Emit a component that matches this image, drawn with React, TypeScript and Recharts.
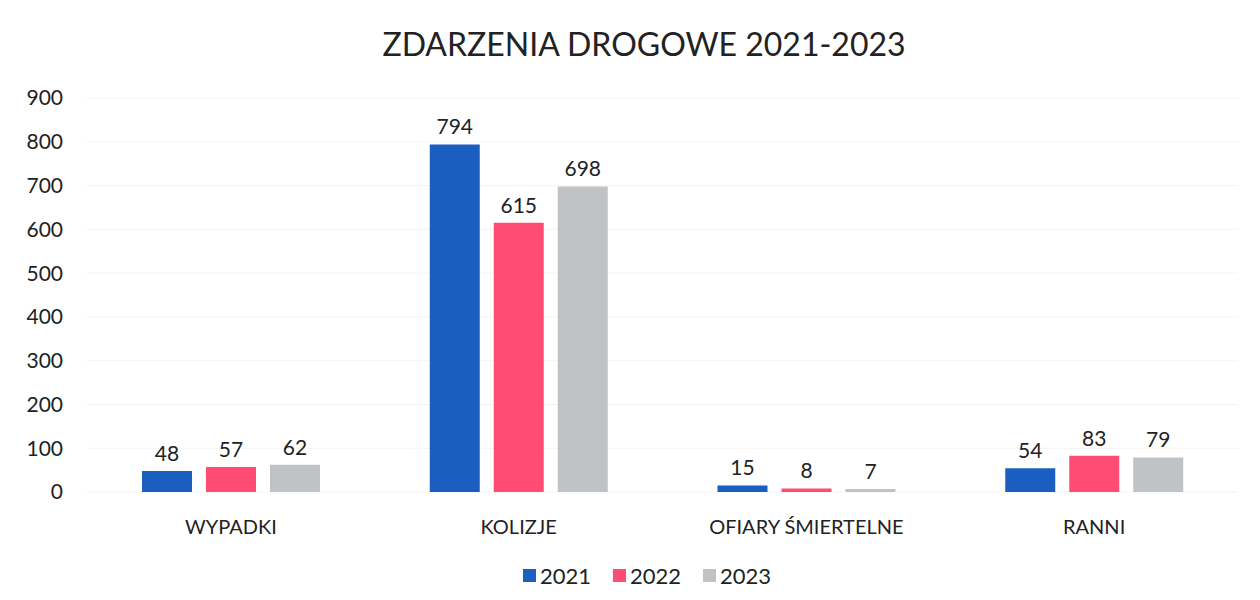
import { BarChart, Bar, XAxis, YAxis, CartesianGrid, Legend, LabelList } from 'recharts';

const kategorie = ['WYPADKI', 'KOLIZJE', 'OFIARY ŚMIERTELNE', 'RANNI'];
const rok2021 = [48, 794, 15, 54];
const rok2022 = [57, 615, 8, 83];
const rok2023 = [62, 698, 7, 79];
const osY = [0, 100, 200, 300, 400, 500, 600, 700, 800, 900];

const serie = [
  { key: 'r2021', name: '2021', color: '#1a5fc0' },
  { key: 'r2022', name: '2022', color: '#fe4c74' },
  { key: 'r2023', name: '2023', color: '#bfc3c5' },
];

const dane = kategorie.map((k, i) => ({
  nazwa: k,
  r2021: rok2021[i],
  r2022: rok2022[i],
  r2023: rok2023[i],
}));

const FONT = 'Lato, "Open Sans", sans-serif';

const Legenda = () => (
  <div
    style={{
      display: 'flex',
      justifyContent: 'center',
      gap: 22,
      marginTop: 10,
      paddingLeft: 56,
      fontFamily: FONT,
      fontSize: 22,
      color: '#222',
    }}
  >
    {serie.map((s) => (
      <div key={s.key} style={{ display: 'flex', alignItems: 'center', gap: 4 }}>
        <span style={{ width: 13, height: 13, background: s.color, display: 'inline-block' }} />
        <span>{s.name}</span>
      </div>
    ))}
  </div>
);

const App = () => {
  return (
    <div style={{ position: 'absolute', left: 0, top: 0, width: 1260, height: 600, background: '#fff' }}>
      <div
        style={{
          position: 'absolute',
          top: 24,
          left: 14,
          width: 1260,
          textAlign: 'center',
          fontFamily: FONT,
          fontSize: 32,
          color: '#222',
        }}
      >
        ZDARZENIA DROGOWE 2021-2023
      </div>
      <BarChart
        width={1260}
        height={600}
        data={dane}
        margin={{ top: 98, right: 22, left: 0, bottom: 0 }}
        barSize={50}
        barGap={14}
      >
        <CartesianGrid vertical={false} stroke="#f3f3f3" />
        <XAxis
          dataKey="nazwa"
          axisLine={false}
          tickLine={false}
          tickMargin={22}
          height={60}
          tick={{ fontFamily: FONT, fontSize: 20, fill: '#222' }}
        />
        <YAxis
          domain={[0, 900]}
          ticks={osY}
          axisLine={false}
          tickLine={false}
          width={87}
          tickMargin={18}
          tick={{ fontFamily: FONT, fontSize: 21, fill: '#222' }}
        />
        <Legend verticalAlign="bottom" height={48} content={<Legenda />} />
        {serie.map((s) => (
          <Bar key={s.key} dataKey={s.key} name={s.name} fill={s.color} isAnimationActive={false}>
            <LabelList
              dataKey={s.key}
              position="top"
              offset={10}
              style={{ fontFamily: FONT, fontSize: 21, fill: '#222' }}
            />
          </Bar>
        ))}
      </BarChart>
    </div>
  );
};

export default App;
